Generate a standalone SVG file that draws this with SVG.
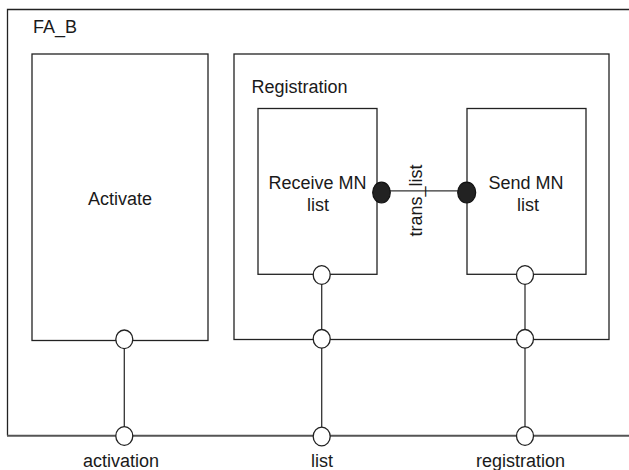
<svg xmlns="http://www.w3.org/2000/svg" width="629" height="470" viewBox="0 0 629 470">
  <style>
    .box { fill: none; stroke: #222; stroke-width: 1.3; }
    .wire { fill: none; stroke: #333; stroke-width: 1.3; }
    .bus { fill: none; stroke: #555; stroke-width: 2; }
    .port { fill: #fff; stroke: #222; stroke-width: 1.3; }
    .dot { fill: #222; stroke: #111; stroke-width: 1.2; }
    text { font-family: "Liberation Sans", Arial, sans-serif; font-size: 18px; fill: #1a1a1a; }
    .c { text-anchor: middle; }
  </style>
  <rect width="629" height="470" fill="#fff"/>

  <!-- outer block FA_B (open on the right) -->
  <g id="fa_b">
    <polyline class="box" points="629,9.5 7.5,9.5 7.5,435.5"/>
    <line class="bus" x1="7" y1="435.8" x2="629" y2="435.8"/>
    <text x="33" y="32.5">FA_B</text>
  </g>

  <g id="activate">
    <rect class="box" x="32" y="54" width="176" height="286.5"/>
    <text class="c" x="120" y="205">Activate</text>
  </g>

  <g id="registration">
    <rect class="box" x="234" y="54" width="375" height="285.5"/>
    <text x="251.5" y="92.5">Registration</text>
  </g>

  <g id="receive">
    <rect class="box" x="258" y="108.5" width="119" height="165.8"/>
    <text class="c" x="317.5" y="188.5">Receive MN</text>
    <text class="c" x="318" y="211">list</text>
  </g>

  <g id="send">
    <rect class="box" x="467" y="108.5" width="119" height="165.8"/>
    <text class="c" x="526" y="188.5">Send MN</text>
    <text class="c" x="528" y="211">list</text>
  </g>

  <!-- connectors -->
  <g id="connectors">
    <line class="wire" x1="390" y1="190.8" x2="458" y2="190.8"/>
    <text class="c" transform="translate(422,200.5) rotate(-90)">trans_list</text>
    <line class="wire" x1="124.3" y1="339.3" x2="124.3" y2="436"/>
    <line class="wire" x1="321.7" y1="275" x2="321.7" y2="436.5"/>
    <line class="wire" x1="525" y1="275" x2="525" y2="436"/>
  </g>

  <!-- ports -->
  <g id="ports">
    <ellipse class="dot" cx="381.5" cy="192.5" rx="8.8" ry="10.3"/>
    <ellipse class="dot" cx="466.7" cy="192.5" rx="9" ry="10.3"/>
    <ellipse class="port" cx="321.7" cy="275" rx="8.5" ry="9.3"/>
    <ellipse class="port" cx="525" cy="275" rx="8.5" ry="9.3"/>
    <ellipse class="port" cx="124.3" cy="339.3" rx="8.5" ry="9.3"/>
    <ellipse class="port" cx="321.7" cy="338.8" rx="8.5" ry="9.3"/>
    <ellipse class="port" cx="525" cy="338.8" rx="8.5" ry="9.3"/>
    <ellipse class="port" cx="124.3" cy="436" rx="8.5" ry="9.3"/>
    <ellipse class="port" cx="321.7" cy="436.5" rx="8.5" ry="9.3"/>
    <ellipse class="port" cx="525" cy="436" rx="8.5" ry="9.3"/>
  </g>

  <!-- bus labels -->
  <g id="labels">
    <text class="c" x="121" y="467">activation</text>
    <text class="c" x="322" y="467">list</text>
    <text class="c" x="520.5" y="467">registration</text>
  </g>
</svg>
